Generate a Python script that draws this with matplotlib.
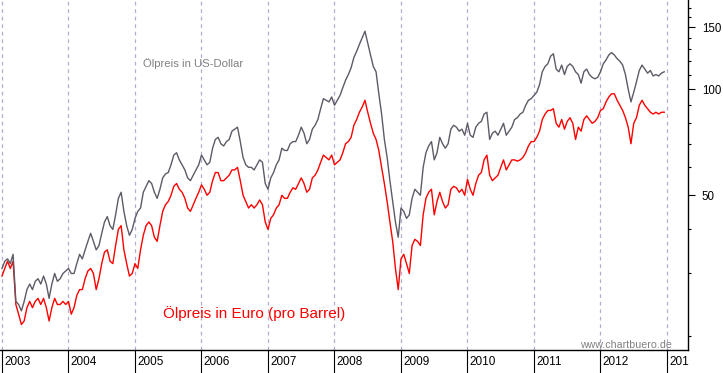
import matplotlib
matplotlib.use("Agg")
import matplotlib.pyplot as plt
import matplotlib.transforms as mtransforms
from matplotlib.ticker import FixedLocator, NullFormatter, FixedFormatter
import numpy as np

plt.rcParams['font.family'] = ['Liberation Sans', 'DejaVu Sans']

# semi-monthly closing prices, Jan 2003 .. Dec 2012
usd = [
    31, 32.5, 33, 32, 34, 25, 24.5, 23.5, 25, 27, 28, 27, 28.5, 29, 28, 29.5, 28, 25.5, 28, 30, 28.5, 29, 30, 30.5,
    31, 30, 30, 32, 34, 33, 35, 37, 39, 37, 35, 36, 39, 42, 43.5, 41, 40, 44, 49, 51, 45, 41, 38.5, 40,
    43, 45, 46, 51, 53, 55, 54, 51, 49, 52, 56, 57.5, 58, 61, 65, 66, 63, 61, 59, 56, 55, 57, 59, 61,
    65, 63, 61, 62, 68, 72, 73, 70, 69, 71, 72, 76, 77, 78, 71, 64, 61, 60, 60, 59, 61, 63, 62, 54,
    52, 56, 58, 61, 63, 68, 67, 67, 70, 71, 71, 74, 78, 75, 70, 72, 77, 79, 82, 88, 94, 93, 92, 95,
    90, 93, 96, 101, 106, 110, 115, 123, 128, 134, 140, 146, 135, 125, 116, 112, 97, 85, 72, 64, 55, 48, 42, 38,
    46, 45, 43, 44, 49, 52, 51, 50, 60, 66, 69, 71, 63, 66, 73, 70, 68, 70, 77, 79, 78, 76, 77, 74,
    80, 74, 73, 78, 80, 81, 85, 86, 72, 75, 76, 74, 77, 80, 74, 76, 78, 82, 83, 85, 86, 90, 93, 94,
    96, 98, 103, 112, 116, 118, 124, 126, 114, 112, 117, 110, 116, 118, 116, 112, 110, 104, 112, 114, 110, 108, 107, 108,
    112, 118, 121, 125, 127, 125, 122, 120, 117, 110, 100, 92, 98, 105, 113, 117, 114, 111, 113, 109, 110, 109, 111, 112,
]
eur = [
    29.5, 31, 32.5, 31, 32.5, 24.5, 23, 21.5, 22, 24, 25, 24, 25, 25.5, 24.5, 25.5, 24, 22, 24, 25.5, 24.5, 24.5, 25, 24.5,
    25, 23, 24, 26, 27, 27, 29, 30.5, 31, 30, 27, 29, 32, 34.5, 35, 32.5, 32, 36, 40, 41, 35, 32, 29.5, 30,
    32, 31, 35, 38.5, 41, 42, 41, 38, 37, 41, 45, 47, 48, 50, 53, 54, 52, 51, 49, 46, 45, 47, 49, 51,
    53.5, 52, 50, 51, 55, 58, 58, 55, 55, 56, 57, 59, 59, 60, 55, 50, 48, 46, 47, 46, 47, 48.5, 47, 42,
    40, 43, 44, 46, 47, 50, 49, 49, 51, 52.5, 52, 54, 56, 54, 51, 52, 56, 57, 59, 62, 65, 64, 63, 65,
    61, 62, 63, 66, 70, 71, 73, 79, 82, 86, 89, 93, 86, 80, 75, 72, 67, 60, 54, 48, 42, 37, 31, 27,
    33, 34, 32, 30, 36, 37.5, 37, 36, 44, 49, 51, 52, 44, 48, 51, 48, 46, 47, 52, 53, 52.5, 51, 52, 50,
    55.5, 52, 50, 54, 57, 58, 63, 65, 57, 55, 56, 57, 60, 63, 59, 61, 63, 63, 62.5, 63, 64, 66, 69, 71,
    71, 73, 76, 82, 85, 87, 87, 88, 80, 78, 82, 77, 81, 83, 80, 72, 78, 76, 82, 84, 82, 80, 81, 83,
    87, 88, 92, 95, 97, 97, 93, 90, 87, 83, 78, 70, 80, 83, 90, 93, 90, 88, 86, 85, 86, 85, 86, 86,
]
years = list(range(2003, 2014))
year_labels = [str(y) for y in years]
major_y = [50, 100, 150]
minor_y = [20, 30, 40, 60, 70, 80, 90, 110, 120, 130, 140, 160, 170]

t = 2003 + np.arange(len(usd)) / 24.0

W, H = 723, 373
fig = plt.figure(figsize=(W / 100, H / 100), dpi=100)
ax = fig.add_axes([0, 23 / H, 688 / W, 350 / H])

ax.plot(t, eur, color='#ff0000', lw=1.0, zorder=3)
ax.plot(t, usd, color='#5e5a66', lw=1.0, zorder=4)

ax.set_yscale('log')
ax.set_ylim(18.2, 179)
ax.set_xlim(2002.97, 2013.316)

for y in years:
    ax.axvline(y, color='#b8abcc', lw=0.9, ls=(0, (3, 3)), zorder=1)

for s in ['left', 'top']:
    ax.spines[s].set_visible(False)
ax.spines['right'].set_color('black')
ax.spines['bottom'].set_color('black')
ax.spines['right'].set_linewidth(1.0)
ax.spines['bottom'].set_linewidth(1.0)

ax.yaxis.tick_right()
ax.yaxis.set_major_locator(FixedLocator(major_y))
ax.yaxis.set_major_formatter(FixedFormatter([str(v) for v in major_y]))
ax.yaxis.set_minor_locator(FixedLocator(minor_y))
ax.yaxis.set_minor_formatter(NullFormatter())
ax.tick_params(axis='y', which='major', direction='out', length=5, width=0.8, pad=5,
               labelsize=8.3, colors='black')
ax.tick_params(axis='y', which='minor', direction='out', length=2.5, width=0.8)

ax.set_xticks(years)
ax.set_xticklabels([])
ax.tick_params(axis='x', which='major', direction='out', length=17, width=0.8)
ax.tick_params(axis='x', which='minor', length=0)

# year labels, clipped at the right spine like the original
clip_bbox = mtransforms.Bbox.from_extents(0, 0, 688.5, H)
trans = mtransforms.blended_transform_factory(ax.transData, ax.transAxes)
offset = mtransforms.ScaledTranslation(1.5 / 72, 0, fig.dpi_scale_trans)
for y, lab in zip(years, year_labels):
    txt = ax.text(y, -12 / 350, lab, transform=trans + offset, ha='left', va='center',
                  fontsize=8.5, color='black')
    txt.set_clip_on(True)
    txt.set_clip_box(mtransforms.TransformedBbox(clip_bbox, mtransforms.IdentityTransform()))

ax.text(143 / 688, 1 - 64 / 350, 'Ölpreis in US-Dollar', transform=ax.transAxes,
        ha='left', va='center', fontsize=8.2, color='#808080')
ax.text(163 / 688, 1 - 314 / 350, 'Ölpreis in Euro (pro Barrel)', transform=ax.transAxes,
        ha='left', va='center', fontsize=11, color='#ff0000')
ax.text(672 / 688, 1 - 345 / 350, 'www.chartbuero.de', transform=ax.transAxes,
        ha='right', va='center', fontsize=7.7, color='#808080')

fig.savefig('out.png', dpi=100)
